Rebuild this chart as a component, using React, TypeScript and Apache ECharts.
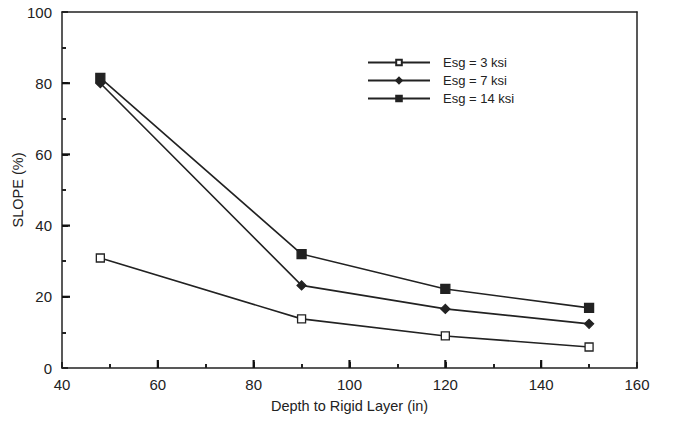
import React, { useEffect, useRef } from "react";
import * as echarts from "echarts";

const depths = [48, 90, 120, 150];
const slope3 = [30.9, 13.8, 9.0, 5.9];
const slope7 = [80.0, 23.2, 16.6, 12.4];
const slope14 = [81.5, 32.0, 22.2, 16.9];
const seriesNames = ["Esg = 3 ksi", "Esg = 7 ksi", "Esg = 14 ksi"];
const xMajorTicks = [60, 80, 100, 120, 140];
const yMajorTicks = [20, 40, 60, 80];

export default function App() {
  const ref = useRef<HTMLDivElement>(null);
  useEffect(() => {
    if (!ref.current) return;
    const chart = echarts.init(ref.current, null, { renderer: "svg" });
    const font = "Liberation Sans, Arial, sans-serif";
    const mk = (name: string, vals: number[], symbol: string, size: number, fill: string) => ({
      name,
      type: "line",
      data: depths.map((d, i) => [d, vals[i]]),
      symbol,
      symbolSize: size,
      showAllSymbol: true,
      z: 5,
      lineStyle: { color: "#222", width: 1.6 },
      itemStyle: { color: fill, borderColor: "#222", borderWidth: 1.3 },
    });
    const minor = () => ({ show: true, splitNumber: 2, length: 4, lineStyle: { color: "#222", width: 2 } });
    const line = () => ({ show: true, onZero: false, lineStyle: { color: "#222", width: 1.5 } });
    const hidden = { show: false };
    const tickSeries = (data: number[][], horizontal: boolean) => ({
      type: "custom",
      coordinateSystem: "cartesian2d",
      silent: true,
      clip: false,
      z: 6,
      data,
      renderItem: (params: any, api: any) => {
        const p = api.coord([api.value(0), api.value(1)]);
        return {
          type: "line",
          shape: horizontal
            ? { x1: p[0], y1: p[1], x2: p[0] + 8, y2: p[1] }
            : { x1: p[0], y1: p[1], x2: p[0], y2: p[1] - 8 },
          style: { stroke: "#111", lineWidth: 2.2 },
        };
      },
    });
    chart.setOption({
      animation: false,
      backgroundColor: "#fff",
      textStyle: { fontFamily: font },
      grid: { left: 62, right: 41, top: 12, bottom: 67, containLabel: false, outerBoundsMode: "none" },
      legend: {
        data: seriesNames,
        orient: "vertical",
        left: 362,
        top: 51,
        itemWidth: 62,
        itemHeight: 7,
        itemGap: 5,
        textStyle: { fontFamily: font, fontSize: 13, color: "#222", padding: [0, 0, 0, 8] },
      },
      xAxis: [
        {
          type: "value",
          min: 40,
          max: 160,
          interval: 20,
          position: "bottom",
          name: "Depth to Rigid Layer (in)",
          nameLocation: "middle",
          nameGap: 30,
          nameMoveOverlap: false,
          nameTextStyle: { fontFamily: font, fontSize: 14.5, color: "#222" },
          axisLine: line(),
          axisTick: { show: true, inside: true, length: 6, lineStyle: { color: "#222", width: 2 } },
          minorTick: minor(),
          splitLine: hidden,
          axisLabel: { fontFamily: font, fontSize: 15, color: "#222", margin: 9 },
        },
        {
          type: "value",
          min: 40,
          max: 160,
          position: "top",
          axisLine: line(),
          axisTick: hidden,
          axisLabel: hidden,
          splitLine: hidden,
        },
      ],
      yAxis: [
        {
          type: "value",
          min: 0,
          max: 100,
          interval: 20,
          position: "left",
          name: "SLOPE (%)",
          nameLocation: "middle",
          nameGap: 37,
          nameMoveOverlap: false,
          nameTextStyle: { fontFamily: font, fontSize: 14.5, color: "#222" },
          axisLine: line(),
          axisTick: { show: true, inside: true, length: 6, lineStyle: { color: "#222", width: 2 } },
          minorTick: minor(),
          splitLine: hidden,
          axisLabel: { fontFamily: font, fontSize: 15, color: "#222", margin: 10 },
        },
        {
          type: "value",
          min: 0,
          max: 100,
          position: "right",
          axisLine: line(),
          axisTick: hidden,
          axisLabel: hidden,
          splitLine: hidden,
        },
      ],
      series: [
        tickSeries(xMajorTicks.map((v) => [v, 0]), false),
        tickSeries(yMajorTicks.map((v) => [40, v]), true),
        mk(seriesNames[0], slope3, "rect", 8, "#fff"),
        mk(seriesNames[1], slope7, "diamond", 9, "#222"),
        mk(seriesNames[2], slope14, "rect", 9, "#222"),
      ],
    });
    return () => chart.dispose();
  }, []);
  return <div ref={ref} style={{ width: 678, height: 435, position: "absolute", left: 0, top: 0 }} />;
}
